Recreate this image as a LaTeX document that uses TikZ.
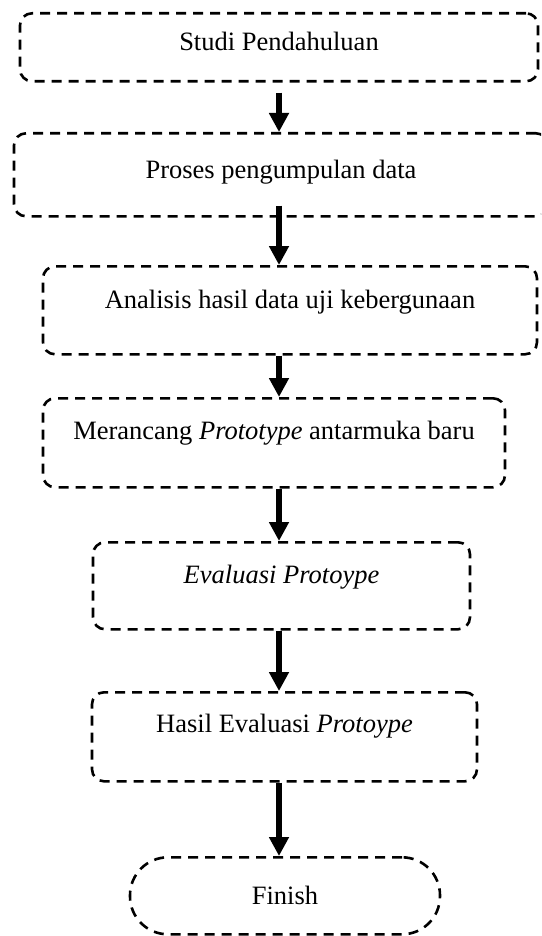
\documentclass[tikz,border=0pt]{standalone}
\usepackage{fontspec}
\setmainfont{Liberation Serif}
\usetikzlibrary{arrows.meta}

\tikzset{
  stage/.style={draw, line width=2.6pt, dash pattern=on 10pt off 7pt,
    rounded corners=12pt, anchor=north, inner xsep=0pt, inner ysep=0pt,
    font=\fontsize{26.5}{30}\selectfont},
  flow/.style={line width=5.5pt, -{Triangle[width=19pt,length=19pt]}}
}

\begin{document}
\begin{tikzpicture}[x=1pt, y=-1pt]
\useasboundingbox (0,0) rectangle (541,936);
\clip (0,0) rectangle (541,936);
\coordinate (spine) at (279,0);
% stages
\node[stage, minimum width=518pt, text height=37pt, text depth=31pt] (studi) at (279,12) {Studi Pendahuluan};
\node[stage, minimum width=534pt, text height=45pt, text depth=38pt] (proses) at (281,132) {Proses pengumpulan data};
\node[stage, minimum width=494pt, text height=42pt, text depth=46pt] (analisis) at (290,265) {Analisis hasil data uji kebergunaan};
\node[stage, minimum width=462pt, text height=41pt, text depth=48pt] (rancang) at (274,397) {Merancang \textit{Prototype} antarmuka baru};
\node[stage, minimum width=377pt, text height=41pt, text depth=46pt] (evaluasi) at (281.5,541) {\textit{Evaluasi Protoype}};
\node[stage, minimum width=385pt, text height=40pt, text depth=49pt] (hasil) at (284.5,691) {Hasil Evaluasi \textit{Protoype}};
\node[stage, rounded corners=38pt, minimum width=310pt, text height=47pt, text depth=30pt] (finish) at (285,856) {Finish};
% arrows
\draw[flow] ([yshift=-10pt]studi.south -| spine) -- (proses.north -| spine);
\draw[flow] ([yshift=12pt]proses.south -| spine) -- (analisis.north -| spine);
\draw[flow] (analisis.south -| spine) -- (rancang.north -| spine);
\draw[flow] (rancang.south -| spine) -- (evaluasi.north -| spine);
\draw[flow] (evaluasi.south -| spine) -- (hasil.north -| spine);
\draw[flow] (hasil.south -| spine) -- (finish.north -| spine);
\end{tikzpicture}
\end{document}
